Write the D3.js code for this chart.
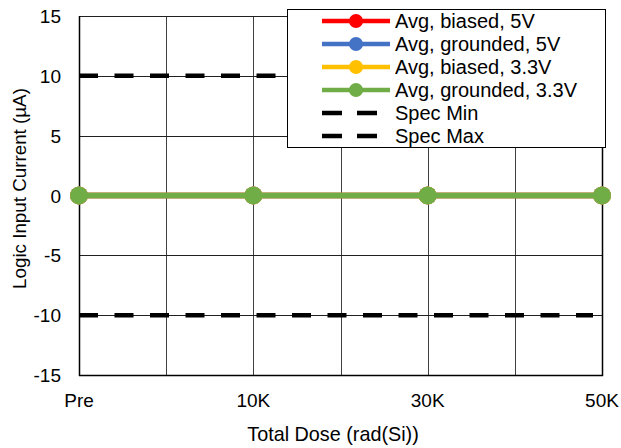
<!DOCTYPE html>
<html><head><meta charset="utf-8">
<script src="https://cdn.jsdelivr.net/npm/d3@7"></script>
<style>body{margin:0;background:#fff}svg{display:block}text{font-family:"Liberation Sans",Arial,sans-serif;fill:#000}</style>
</head><body><svg id="c" width="621" height="448"></svg>
<script>
const categories = ["Pre", "10K", "30K", "50K"];
const categoryPos = [0, 2, 4, 6];
const seriesNames = ["Avg, biased, 5V", "Avg, grounded, 5V", "Avg, biased, 3.3V", "Avg, grounded, 3.3V"];
const seriesColors = ["#ff0000", "#4472c4", "#ffc000", "#70ad47"];
const biased5 = [0, 0, 0, 0];
const grounded5 = [0, 0, 0, 0];
const biased33 = [0, 0, 0, 0];
const grounded33 = [0, 0, 0, 0];
const specNames = ["Spec Min", "Spec Max"];
const specValues = [-10, 10];
const yTicks = [-15, -10, -5, 0, 5, 10, 15];

const seriesValues = [biased5, grounded5, biased33, grounded33];
const svg = d3.select("#c");
const L = 79, R = 602, T = 16, B = 375;
const x = d3.scaleLinear().domain([0, 6]).range([L, R]);
const y = d3.scaleLinear().domain([-15, 15]).range([B, T]);

// grid
const g = svg.append("g");
g.selectAll(".vg").data(d3.range(0, 7)).enter().append("line")
  .attr("x1", d => Math.round(x(d)) + 0.5).attr("x2", d => Math.round(x(d)) + 0.5)
  .attr("y1", T).attr("y2", B).attr("stroke", "#404040").attr("stroke-width", 1);
g.selectAll(".hg").data(yTicks).enter().append("line")
  .attr("x1", L).attr("x2", R)
  .attr("y1", d => Math.round(y(d)) + 0.5).attr("y2", d => Math.round(y(d)) + 0.5)
  .attr("stroke", "#202020").attr("stroke-width", 1);
// axes border
svg.append("line").attr("x1", L + 0.5).attr("x2", L + 0.5).attr("y1", T).attr("y2", B + 1).attr("stroke", "#000").attr("stroke-width", 1.5);
svg.append("line").attr("x1", L).attr("x2", R + 1).attr("y1", B + 0.5).attr("y2", B + 0.5).attr("stroke", "#000").attr("stroke-width", 1.5);
svg.append("line").attr("x1", R + 0.5).attr("x2", R + 0.5).attr("y1", T).attr("y2", B + 1).attr("stroke", "#000").attr("stroke-width", 1.5);

// y tick labels
svg.selectAll(".yl").data(yTicks).enter().append("text")
  .attr("x", 61).attr("y", d => y(d) + 7).attr("text-anchor", "end")
  .attr("font-size", 19).text(d => d);
// x tick labels
svg.selectAll(".xl").data(categories).enter().append("text")
  .attr("x", (d, i) => x(categoryPos[i])).attr("y", 407).attr("text-anchor", "middle")
  .attr("font-size", 19).text(d => d);
// titles
svg.append("text").attr("x", 333).attr("y", 441).attr("text-anchor", "middle").attr("font-size", 19.8).text("Total Dose (rad(Si))");
svg.append("text").attr("transform", `translate(25.5,188.5) rotate(-90)`).attr("text-anchor", "middle").attr("font-size", 18.8).text("Logic Input Current (µA)");

// clip
svg.append("clipPath").attr("id", "pc").append("rect").attr("x", L).attr("y", T - 10).attr("width", R - L).attr("height", B - T + 20);

// spec lines
svg.append("g").attr("clip-path", "url(#pc)").selectAll("line").data(specValues).enter().append("line")
  .attr("x1", x(0)).attr("x2", x(6) - 9).attr("y1", d => y(d)).attr("y2", d => y(d))
  .attr("stroke", "#000").attr("stroke-width", 4.5).attr("stroke-dasharray", "19,16.5");

// series
const line = d3.line().x((d, i) => x(categoryPos[i])).y(d => y(d));
seriesValues.forEach((vals, si) => {
  svg.append("path").datum(vals).attr("d", line).attr("fill", "none")
    .attr("stroke", seriesColors[si]).attr("stroke-width", 5.5);
  svg.selectAll(".m" + si).data(vals).enter().append("circle")
    .attr("cx", (d, i) => x(categoryPos[i])).attr("cy", d => y(d)).attr("r", 9)
    .attr("fill", seriesColors[si]);
});

// legend
const lg = svg.append("g");
lg.append("rect").attr("x", 287.5).attr("y", 9.5).attr("width", 318).attr("height", 138)
  .attr("fill", "#fff").attr("stroke", "#000").attr("stroke-width", 1);
const rowY = i => 21 + i * 23;
seriesNames.forEach((n, i) => {
  lg.append("line").attr("x1", 322).attr("x2", 390).attr("y1", rowY(i)).attr("y2", rowY(i))
    .attr("stroke", seriesColors[i]).attr("stroke-width", 4.5);
  lg.append("circle").attr("cx", 356).attr("cy", rowY(i)).attr("r", 7).attr("fill", seriesColors[i]);
  lg.append("text").attr("x", 395).attr("y", rowY(i) + 7).attr("font-size", 20).text(n);
});
specNames.forEach((n, j) => {
  const i = j + 4;
  lg.append("line").attr("x1", 322).attr("x2", 378).attr("y1", rowY(i)).attr("y2", rowY(i))
    .attr("stroke", "#000").attr("stroke-width", 4.5).attr("stroke-dasharray", "20,15");
  lg.append("text").attr("x", 395).attr("y", rowY(i) + 7).attr("font-size", 20).text(n);
});
</script></body></html>
